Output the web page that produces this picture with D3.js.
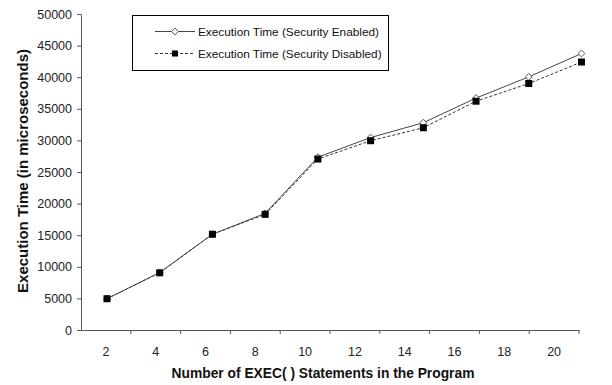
<!DOCTYPE html>
<html><head><meta charset="utf-8">
<script src="https://cdn.jsdelivr.net/npm/d3@7"></script>
<style>body{margin:0;background:#fff}svg{display:block}text{font-family:Arial,"Liberation Sans",sans-serif}</style>
</head><body><svg id="c" width="612" height="385"></svg>
<script>
const categories = ["2","4","6","8","10","12","14","16","18","20"];
const enabledValues = [4950, 9100, 15150, 18450, 27350, 30450, 32800, 36700, 40050, 43750];
const disabledValues = [4950, 9050, 15150, 18300, 27050, 29950, 32000, 36200, 39000, 42400];
const yTicks = [0,5000,10000,15000,20000,25000,30000,35000,40000,45000,50000];
const seriesNames = ["Execution Time (Security Enabled)", "Execution Time (Security Disabled)"];

const svg = d3.select("#c");
const y = d3.scaleLinear().domain([0,50000]).range([330,14]);
const xBand = d3.scaleBand().domain(categories).range([81,579]);
const xPt = d3.scalePoint().domain(categories).range([107,581.5]);

// Y axis
const yAxis = svg.append("g").attr("transform","translate(81,0)")
  .call(d3.axisLeft(y).tickValues(yTicks).tickSize(4).tickSizeOuter(0).tickFormat(d3.format("d")));
yAxis.select(".domain").attr("stroke","#555");
yAxis.selectAll(".tick line").attr("stroke","#555");
yAxis.selectAll("text").attr("font-size","12.5px").attr("fill","#222").attr("x",-9);

// X axis
const xAxis = svg.append("g").attr("transform","translate(0,330)")
  .call(d3.axisBottom(xBand).tickSize(0).tickSizeOuter(0));
xAxis.select(".domain").attr("stroke","#555");
xAxis.selectAll("text").attr("font-size","12.5px").attr("fill","#222").attr("dy","0").attr("y",26);
const bounds = categories.map(c => xBand(c)).concat([xBand.range()[1]]).slice(1);
svg.append("g").selectAll("line").data(bounds).join("line")
  .attr("x1",d=>d).attr("x2",d=>d).attr("y1",330).attr("y2",334).attr("stroke","#555");

// titles
svg.append("text").attr("x",323).attr("y",378).attr("text-anchor","middle")
  .attr("font-size","13.8px").attr("font-weight","bold").attr("fill","#111")
  .text("Number of EXEC( ) Statements in the Program");
svg.append("text").attr("transform","translate(28,171) rotate(-90)").attr("text-anchor","middle")
  .attr("font-size","15px").attr("font-weight","bold").attr("fill","#111")
  .text("Execution Time (in microseconds)");

const line = d3.line().x((d,i)=>xPt(categories[i])).y(d=>y(d));
// disabled series
svg.append("path").datum(disabledValues).attr("d",line).attr("fill","none")
  .attr("stroke","#333").attr("stroke-width",1).attr("stroke-dasharray","3,2");
// enabled series
svg.append("path").datum(enabledValues).attr("d",line).attr("fill","none")
  .attr("stroke","#444").attr("stroke-width",1);

const diamond = d3.symbol().type(d3.symbolDiamond2).size(30);
svg.append("g").selectAll("path").data(enabledValues).join("path")
  .attr("d",diamond).attr("transform",(d,i)=>`translate(${xPt(categories[i])},${y(d)})`)
  .attr("fill","#fff").attr("stroke","#555").attr("stroke-width",1);
svg.append("g").selectAll("rect").data(disabledValues).join("rect")
  .attr("x",(d,i)=>xPt(categories[i])-3.5).attr("y",d=>y(d)-3.5).attr("width",7).attr("height",7)
  .attr("fill","#000");

// legend
const lg = svg.append("g");
lg.append("rect").attr("x",132.5).attr("y",15.5).attr("width",256).attr("height",55)
  .attr("fill","#fff").attr("stroke","#000").attr("stroke-width",1);
const rows = [31.5, 53.5];
lg.append("line").attr("x1",155).attr("x2",195).attr("y1",rows[0]).attr("y2",rows[0]).attr("stroke","#444");
lg.append("path").attr("d",diamond).attr("transform",`translate(175,${rows[0]})`).attr("fill","#fff").attr("stroke","#555");
lg.append("line").attr("x1",155).attr("x2",195).attr("y1",rows[1]).attr("y2",rows[1]).attr("stroke","#333").attr("stroke-dasharray","3,2");
lg.append("rect").attr("x",172).attr("y",rows[1]-3).attr("width",6).attr("height",6).attr("fill","#000");
seriesNames.forEach((n,i)=>{
  lg.append("text").attr("x",198).attr("y",rows[i]+4.5).attr("font-size","11.8px").attr("fill","#111").text(n);
});
</script></body></html>
